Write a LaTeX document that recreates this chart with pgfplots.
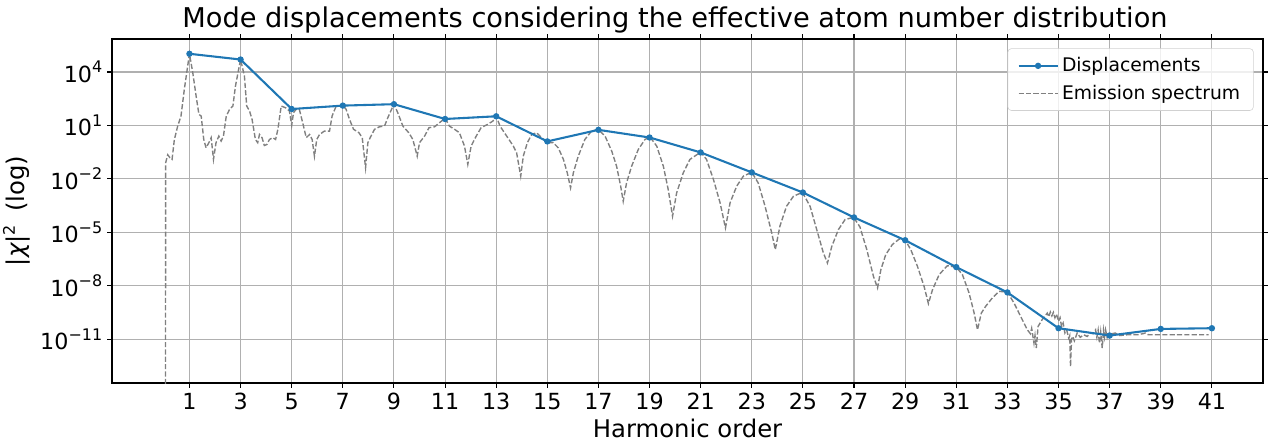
\documentclass[border=0pt]{standalone}
\usepackage{fontspec}
\setmainfont{DejaVu Sans}
\usepackage{pgfplots}
\pgfplotsset{compat=1.18}
\definecolor{mplblue}{RGB}{31,119,180}
\definecolor{mplgrid}{RGB}{176,176,176}
\newcommand\sups[1]{\raisebox{0.42em}{\fontsize{11.5}{12}\selectfont #1}}

\begin{document}
\begin{tikzpicture}
\begin{axis}[
  name=ax,
  scale only axis,
  width=828.7pt, height=247.7pt,
  xmin=-2.03, xmax=43.0,
  ymode=log, ymin=3.4e-14, ymax=7.1e5,
  axis line style={black, line width=0.8pt},
  tick align=outside,
  major tick length=3.5pt,
  tick style={black, line width=0.8pt},
  minor tick num=0,
  grid=major,
  major grid style={mplgrid, line width=0.8pt},
  xtick={1,3,...,41},
  xticklabels={1,3,5,7,9,11,13,15,17,19,21,23,25,27,29,31,33,35,37,39,41},
  ytick={1e-11,1e-8,1e-5,1e-2,1e1,1e4},
  yticklabels={10\sups{−11},10\sups{−8},10\sups{−5},10\sups{−2},10\sups{1},10\sups{4}},
  ticklabel style={font=\fontsize{16}{19}\selectfont},
  title={Mode displacements considering the effective atom number distribution},
  title style={at={(0.5,1)}, anchor=south, xshift=-9pt, yshift=-1.7pt, inner sep=0pt,
               font=\fontsize{19.6}{23}\selectfont},
  xlabel={Harmonic order},
  ylabel={|{\itshape χ}|\sups{2}\hspace{0.55em}(log)},
  label style={font=\fontsize{17.5}{21}\selectfont},
  legend style={at={(1,1)}, anchor=north east, xshift=-6.75pt, yshift=-6.75pt,
                draw=black!18, rounded corners=2.5pt, fill=white, fill opacity=0.8,
                text opacity=1, font=\fontsize{13.5}{16}\selectfont,
                inner xsep=7pt, inner ysep=4pt, row sep=3pt, nodes={inner sep=2.5pt}},
  legend cell align=left,
  legend image code/.code={\draw[mark repeat=2,mark phase=2,#1]
      plot coordinates {(0pt,0pt) (14pt,0pt) (28pt,0pt)};},
]

% emission spectrum (drawn beneath the displacement curve)
\addplot[forget plot, gray, line width=1pt, dash pattern=on 3.7pt off 1.6pt]
  table {
x y
0.06 1e-16
0.07 7.94e-2
0.15 2.24e-1
0.24 1.51e-1
0.32 1.23e-1
0.41 1.62
0.54 9.12
0.67 33.9
0.80 1.07e3
1.00 1.05e5
1.13 9.12e3
1.26 447
1.37 41.7
1.46 33.1
1.56 1.62
1.65 0.55
1.76 1.07
1.85 2.04
1.94 0.123
2.04 1.07
2.15 2.51
2.24 1.32
2.33 2.51
2.44 33.1
2.57 79.4
2.70 123
2.80 1.62e3
3.00 5.0e4
3.15 6.03e3
3.24 123
3.35 64.6
3.45 21.9
3.58 1.62
3.67 1.07
3.74 3.09
3.84 2.04
3.93 0.741
4.03 0.851
4.13 1.62
4.26 2.04
4.37 1.62
4.46 6.03
4.59 123
4.76 97.7
4.91 64.6
5.00 10
5.07 51.3
5.17 79.4
5.30 79.4
5.43 14.1
5.57 2.04
5.70 3.09
5.80 1.62
5.89 0.186
5.98 1.62
6.09 3.09
6.28 4.79
6.48 4.79
6.58 33.1
6.74 123
7.00 135
7.13 79.4
7.26 21.9
7.42 6.03
7.63 3.89
7.76 2.04
7.89 4.17e-2
7.98 1.07
8.07 2.04
8.24 6.03
8.43 8.32
8.63 9.12
8.76 26.9
9.00 158
9.15 51.3
9.35 9.12
9.58 3.89
9.74 1.62
9.91 0.186
10.00 1.07
10.20 2.51
10.37 7.41
10.59 8.32
10.78 14.1
11.00 25.1
11.17 9.12
11.37 6.03
11.56 3.89
11.76 0.692
11.89 6.46e-2
12.02 0.692
12.22 2.51
12.41 7.41
12.67 11.5
12.87 17.4
13.00 33.1
13.15 9.12
13.41 2.51
13.67 0.692
13.80 0.288
13.96 1.41e-2
14.06 0.186
14.22 1.07
14.39 3.09
14.58 3.89
14.78 2.04
15.00 1.07
15.23 1.07
15.43 0.55
15.63 0.123
15.78 2.19e-2
15.91 3.09e-3
16.02 2.19e-2
16.21 0.186
16.47 1.62
16.73 4.79
17.00 5.89
17.26 2.51
17.52 0.363
17.71 5.13e-2
17.87 3.89e-3
17.97 5.5e-4
18.10 5.89e-3
18.30 5.13e-2
18.56 0.447
18.82 1.62
19.02 2.19
19.28 0.692
19.54 5.13e-2
19.73 2.51e-3
19.90 7.94e-5
20.06 1.62e-3
20.32 2.19e-2
20.58 0.123
21.00 0.316
21.23 0.123
21.50 9.12e-3
21.76 4.47e-4
21.97 1.74e-5
22.15 4.47e-4
22.41 3.89e-3
22.67 1.41e-2
23.00 2.34e-2
23.25 5.89e-3
23.52 2.88e-4
23.78 9.12e-6
23.92 1.05e-6
24.10 2.19e-5
24.36 2.88e-4
24.63 1.05e-3
24.98 1.74e-3
25.28 2.88e-4
25.54 1.41e-5
25.80 6.92e-7
25.96 1.86e-7
26.13 1.62e-6
26.39 1.41e-5
26.65 5.13e-5
26.98 6.92e-5
27.23 2.0e-5
27.50 1.05e-6
27.76 3.31e-8
27.92 7.41e-9
28.05 7.94e-8
28.24 5.5e-7
28.50 2.04e-6
28.77 4.17e-6
29.00 3.72e-6
29.22 1.05e-6
29.48 1.23e-7
29.74 9.12e-9
29.91 9.77e-10
30.07 5.89e-9
30.33 4.17e-8
30.65 1.32e-7
31.00 1.10e-7
31.24 4.17e-8
31.50 3.89e-9
31.70 2.88e-10
31.83 3.31e-11
31.98 2.88e-10
32.15 6.92e-10
32.41 2.04e-9
32.67 4.79e-9
33.00 4.37e-9
33.26 1.05e-9
33.52 1.86e-10
33.78 3.31e-11
33.90 2.0e-11
33.95 3.98e-11
34.04 5.89e-12
34.08 1.58e-11
34.13 3.09e-12
34.20 5.13e-11
34.36 1.23e-10
34.56 2.88e-10
34.62 1.78e-10
34.68 3.31e-10
34.74 2.0e-10
34.80 3.16e-10
34.86 1.58e-10
34.92 2.51e-10
35.00 1.0e-10
35.06 1.58e-10
35.12 5.01e-11
35.18 7.94e-11
35.25 2.19e-11
35.32 3.16e-11
35.40 1.12e-11
35.44 1.58e-11
35.47 2.88e-13
35.51 1.0e-11
35.55 1.41e-11
35.62 7.94e-12
35.73 2.19e-11
35.85 1.26e-11
35.99 1.74e-11
36.12 1.41e-11
36.25 2.19e-11
36.35 2.0e-11
36.45 3.31e-11
36.50 1.26e-11
36.55 3.16e-11
36.60 5.89e-12
36.65 2.51e-11
36.71 3.09e-12
36.76 3.16e-11
36.80 1.26e-11
36.84 3.31e-11
36.90 1.26e-11
36.95 2.51e-11
37.00 1.41e-11
37.10 2.0e-11
37.22 2.19e-11
37.40 1.58e-11
37.68 1.74e-11
38.08 1.74e-11
38.30 2.0e-11
38.40 2.19e-11
38.50 1.78e-11
38.60 1.74e-11
39.00 1.74e-11
40.87 1.74e-11
};

% mode displacements at the odd harmonics
\addplot[mplblue, line width=1.5pt, mark=*, mark size=1.5pt,
         mark options={solid, fill=mplblue, draw=mplblue}]
  coordinates {
(1,1.05e5) (3,5.0e4) (5,83) (7,129) (9,155) (11,22.9) (13,32.4)
(15,1.26) (17,5.62) (19,2.09) (21,0.302) (23,0.0229) (25,1.70e-3)
(27,6.76e-5) (29,3.55e-6) (31,1.10e-7) (33,4.17e-9) (35,4.07e-11)
(37,1.58e-11) (39,3.72e-11) (41,4.07e-11)
};
\addlegendentry{Displacements}
\addlegendimage{gray, line width=1pt, dash pattern=on 3.7pt off 1.6pt}
\addlegendentry{Emission spectrum}
\end{axis}
\pgfresetboundingbox
\path ([shift={(-80.64pt,-42.48pt)}]ax.south west)
  rectangle ([shift={(6.48pt,28.08pt)}]ax.north east);
\end{tikzpicture}
\end{document}
